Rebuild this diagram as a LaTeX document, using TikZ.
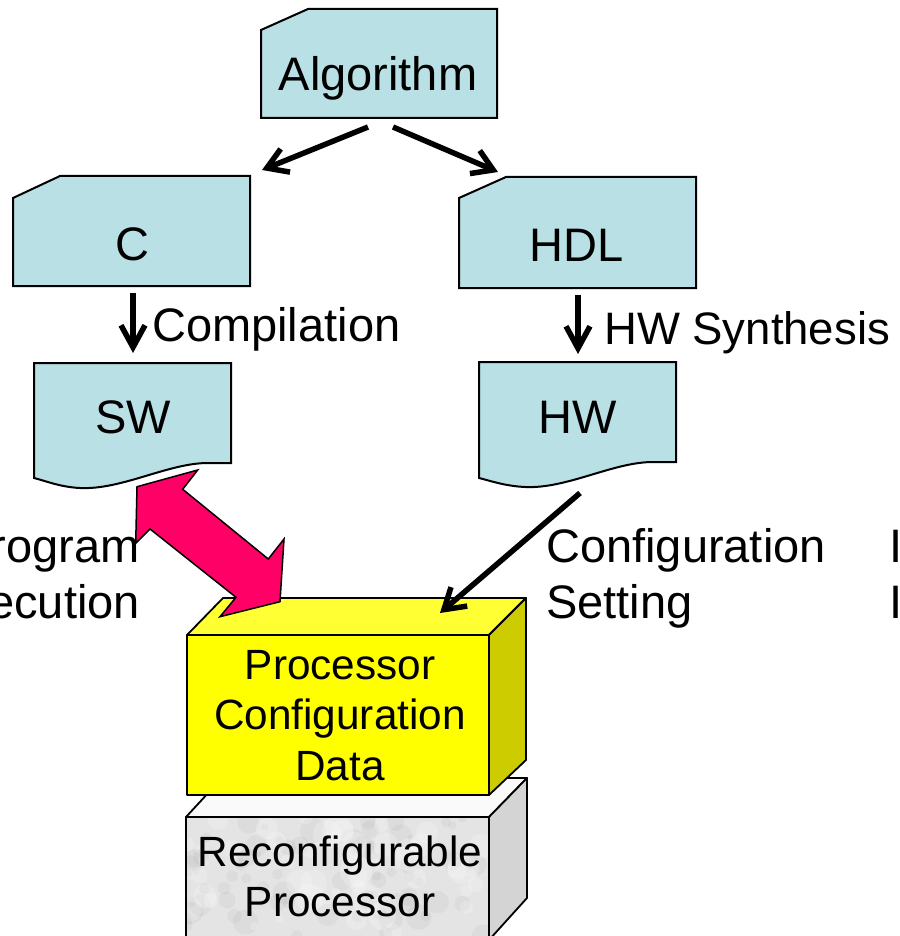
\documentclass[tikz,border=0pt]{standalone}
\usepackage{fontspec}
\setmainfont{Liberation Sans}
\usetikzlibrary{arrows.meta}
\definecolor{docfill}{RGB}{185,224,228}
\definecolor{yfront}{RGB}{255,255,0}
\definecolor{ytop}{RGB}{255,255,51}
\definecolor{yside}{RGB}{204,204,0}
\definecolor{gfront}{RGB}{228,228,228}
\definecolor{gtop}{RGB}{250,250,250}
\definecolor{gside}{RGB}{212,212,212}
\definecolor{pinkarrow}{RGB}{255,0,102}
\tikzset{
  docbox/.style={draw=black, line width=2pt, fill=docfill, line join=miter},
  facebox/.style={draw=black, line width=1.8pt, line join=round},
  lbl/.style={font=\fontsize{47}{56}\selectfont, inner sep=0pt, anchor=base},
  boxlbl/.style={font=\fontsize{42.3}{50.5}\selectfont, inner sep=0pt, anchor=base},
  flowarrow/.style={draw=black, line width=5.5pt, -{Straight Barb[length=20pt,width=25pt]}},
  steparrow/.style={draw=black, line width=5.5pt, -{Straight Barb[length=22pt,width=24pt]}},
}
\begin{document}
\begin{tikzpicture}[x=1pt,y=-1pt]
\useasboundingbox (0,0) rectangle (899,936);
\clip (0,0) rectangle (899,936);

% --- cards ---
\draw[docbox] (261,30) -- (308,9) -- (497,9) -- (497,118) -- (261,118) -- cycle;
\node[lbl] (alg) at (378,91) {Algorithm};

\draw[docbox] (13,198) -- (60,176) -- (250,176) -- (250,286) -- (13,286) -- cycle;
\node[lbl] (ctxt) at (132,260) {C};

\draw[docbox] (459,198) -- (506,177) -- (696,177) -- (696,288) -- (459,288) -- cycle;
\node[lbl] (hdl) at (577,261) {HDL};

% --- documents ---
\draw[docbox] (34,363) -- (231,363) -- (231,463) -- (208,463)
   .. controls (168,463) and (122,490) .. (80,488)
   .. controls (60,487) and (46,481) .. (34,478) -- cycle;
\node[lbl] (sw) at (133,433) {SW};

\draw[docbox] (479,362) -- (676,362) -- (676,462) -- (653,462)
   .. controls (613,462) and (567,489) .. (525,487)
   .. controls (505,486) and (491,481) .. (479,478) -- cycle;
\node[lbl] (hw) at (577.5,433) {HW};

% --- connectors between cards ---
\coordinate (algL) at (368,127);
\coordinate (cIn) at (262,170);
\coordinate (algR) at (393,127);
\coordinate (hdlIn) at (498,172);
\draw[flowarrow] (algL) -- (cIn);
\draw[flowarrow] (algR) -- (hdlIn);

\coordinate (cOut) at (133,293);
\coordinate (swIn) at (133,353);
\coordinate (hdlOut) at (578,295);
\coordinate (hwIn) at (578,354);
\draw[steparrow] (cOut) -- (swIn);
\draw[steparrow] (hdlOut) -- (hwIn);
\node[lbl, anchor=base west] (comp) at (152,341) {Compilation};
\node[lbl, anchor=base west, font=\fontsize{45.5}{54}\selectfont] (synth) at (604,344) {HW Synthesis};

% --- side labels ---
\node[lbl, anchor=base east] (prog1) at (140,562) {Program};
\node[lbl, anchor=base east] (prog2) at (140,618) {Execution};
\node[lbl, anchor=base west] (cfg1) at (546,562) {Configuration};
\node[lbl, anchor=base west] (cfg2) at (546,618) {Setting};
\node[lbl, anchor=base west] (rt1) at (889,562) {I};
\node[lbl, anchor=base west] (rt2) at (889,618) {I};

% --- reconfigurable processor (grey block) ---
\draw[facebox, fill=gtop] (186,817) -- (222,778) -- (527,778) -- (489,817) -- cycle;
\draw[facebox, fill=gside] (489,817) -- (527,778) -- (527,898) -- (489,940) -- cycle;
\begin{scope}
  \clip (186,817) rectangle (489,940);
  \fill[gfront] (186,817) rectangle (489,940);
  \pgfmathsetseed{11}
  \foreach \i in {1,...,70}{
    \pgfmathsetmacro\xx{186+303*rnd}
    \pgfmathsetmacro\yy{817+123*rnd}
    \pgfmathsetmacro\rr{3+10*rnd}
    \fill[gray, opacity=0.08] (\xx,\yy) circle[radius=\rr];
  }
  \foreach \i in {1,...,50}{
    \pgfmathsetmacro\xx{186+303*rnd}
    \pgfmathsetmacro\yy{817+123*rnd}
    \pgfmathsetmacro\rr{4+12*rnd}
    \fill[white, opacity=0.22] (\xx,\yy) circle[radius=\rr];
  }
\end{scope}
\draw[facebox] (186,940) -- (186,817) -- (489,817) -- (489,940);
\node[boxlbl] (rp1) at (340,866) {Reconfigurable};
\node[boxlbl] (rp2) at (340,916) {Processor};

% --- processor configuration data (yellow block) ---
\draw[facebox, fill=ytop] (187,635) -- (223,598) -- (526,598) -- (489,635) -- cycle;
\draw[facebox, fill=yside] (489,635) -- (526,598) -- (526,760) -- (489,795) -- cycle;
\draw[facebox, fill=yfront] (187,635) rectangle (489,795);
\node[boxlbl] (pcd1) at (340,679) {Processor};
\node[boxlbl] (pcd2) at (340,729.5) {Configuration};
\node[boxlbl] (pcd3) at (340,780) {Data};

% --- configuration setting arrow ---
\coordinate (hwOut) at (580,493);
\coordinate (cubeIn) at (440,613);
\draw[flowarrow] (hwOut) -- (cubeIn);

% --- program execution double arrow ---
\draw[draw=black, line width=1.5pt, fill=pinkarrow, line join=miter]
  (137,486.7) -- (197.7,470) -- (182.7,489.3) -- (268.3,559) -- (284,539)
  -- (280,601.7) -- (220,616.7) -- (236,597.3) -- (150,529) -- (135.7,543.3) -- cycle;
\end{tikzpicture}
\end{document}
